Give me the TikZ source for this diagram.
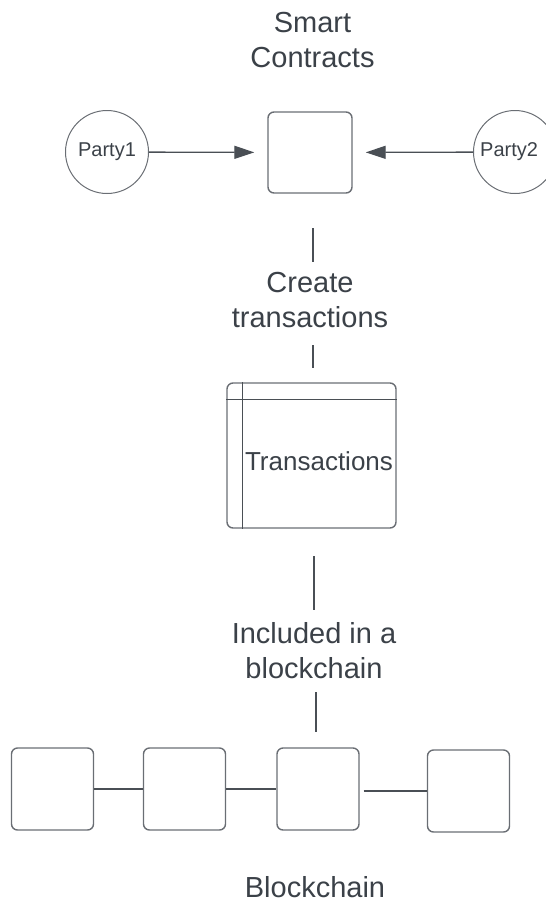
\documentclass[tikz,border=0pt]{standalone}
\usepackage{fontspec}
\setmainfont{Liberation Sans}
\usetikzlibrary{arrows.meta}
\definecolor{ink}{HTML}{3B4148}
\definecolor{edge}{HTML}{6A6E74}
\definecolor{wire}{HTML}{4A4F55}
\begin{document}
\begin{tikzpicture}[x=1pt,y=-1pt,
  caption/.style={font=\fontsize{29}{35}\selectfont, text=ink, align=center, inner sep=0pt, anchor=base},
  blk/.style={draw=edge, line width=1.4pt, rounded corners=6pt, inner sep=0pt},
  party/.style={circle, draw=edge, line width=1pt, minimum size=83pt, inner sep=0pt},
  partytext/.style={font=\fontsize{20}{24}\selectfont, text=ink, inner sep=0pt},
  wire/.style={draw=wire, line width=1.3pt},
  arrow/.style={wire, -{Triangle[length=20pt,width=13pt]}, shorten >=13pt},
  chainbox/.style={blk, minimum width=82pt, minimum height=82pt}
]
\useasboundingbox (0,0) rectangle (546,914);

% smart contract and the two parties
\node[caption] (title) at (312.5,67) {Smart\\Contracts};
\node[blk, minimum width=84pt, minimum height=81pt] (sc) at (310,152.5) {};
\node[party] (p1) at (107,152) {};
\node[partytext] (p1t) at (107,152) {Party1};
\node[party] (p2) at (515,152) {};
\node[partytext, anchor=west] (p2t) at (480,152) {Party2};
\draw[arrow] (p1) -- (sc);
\draw[arrow] (p2) -- (sc);

% step: create transactions
\coordinate (l1a) at (313,228);
\coordinate (l1b) at (313,262);
\draw[wire] (l1a) -- (l1b);
\node[caption] (create) at (310,327) {Create\\transactions};
\coordinate (l2a) at (313,345);
\coordinate (l2b) at (313,368);
\draw[wire] (l2a) -- (l2b);

% transactions table
\node[blk, minimum width=169pt, minimum height=145pt] (tx) at (311.5,455.5) {};
\path (tx.north west) ++(0,17) coordinate (h1)
      (tx.north east) ++(0,17) coordinate (h2)
      (tx.north west) ++(16,0) coordinate (v1)
      (tx.south west) ++(16,0) coordinate (v2);
\draw[wire, line width=1.2pt] (h1) -- (h2);
\draw[wire, line width=1.2pt] (v1) -- (v2);
\node[font=\fontsize{26}{30}\selectfont, text=ink, inner sep=0pt, anchor=base] (txt) at (319,470) {Transactions};

% step: included in a blockchain
\coordinate (l3a) at (314,556);
\coordinate (l3b) at (314,610);
\draw[wire] (l3a) -- (l3b);
\node[caption] (incl) at (314,678) {Included in a\\blockchain};
\coordinate (l4a) at (316,692);
\coordinate (l4b) at (316,732);
\draw[wire] (l4a) -- (l4b);

% chain of blocks
\node[chainbox] (b1) at (52.5,789) {};
\node[chainbox] (b2) at (184.5,789) {};
\node[chainbox] (b3) at (318,789) {};
\node[chainbox] (b4) at (468.5,791) {};
\draw[wire] (b1.east) -- (b2.west);
\draw[wire] (b2.east) -- (b3.west);
\draw[wire, shorten <=4pt] (b3.east |- b4.west) -- (b4.west);

\node[caption] (chain) at (315,897) {Blockchain};
\end{tikzpicture}
\end{document}
